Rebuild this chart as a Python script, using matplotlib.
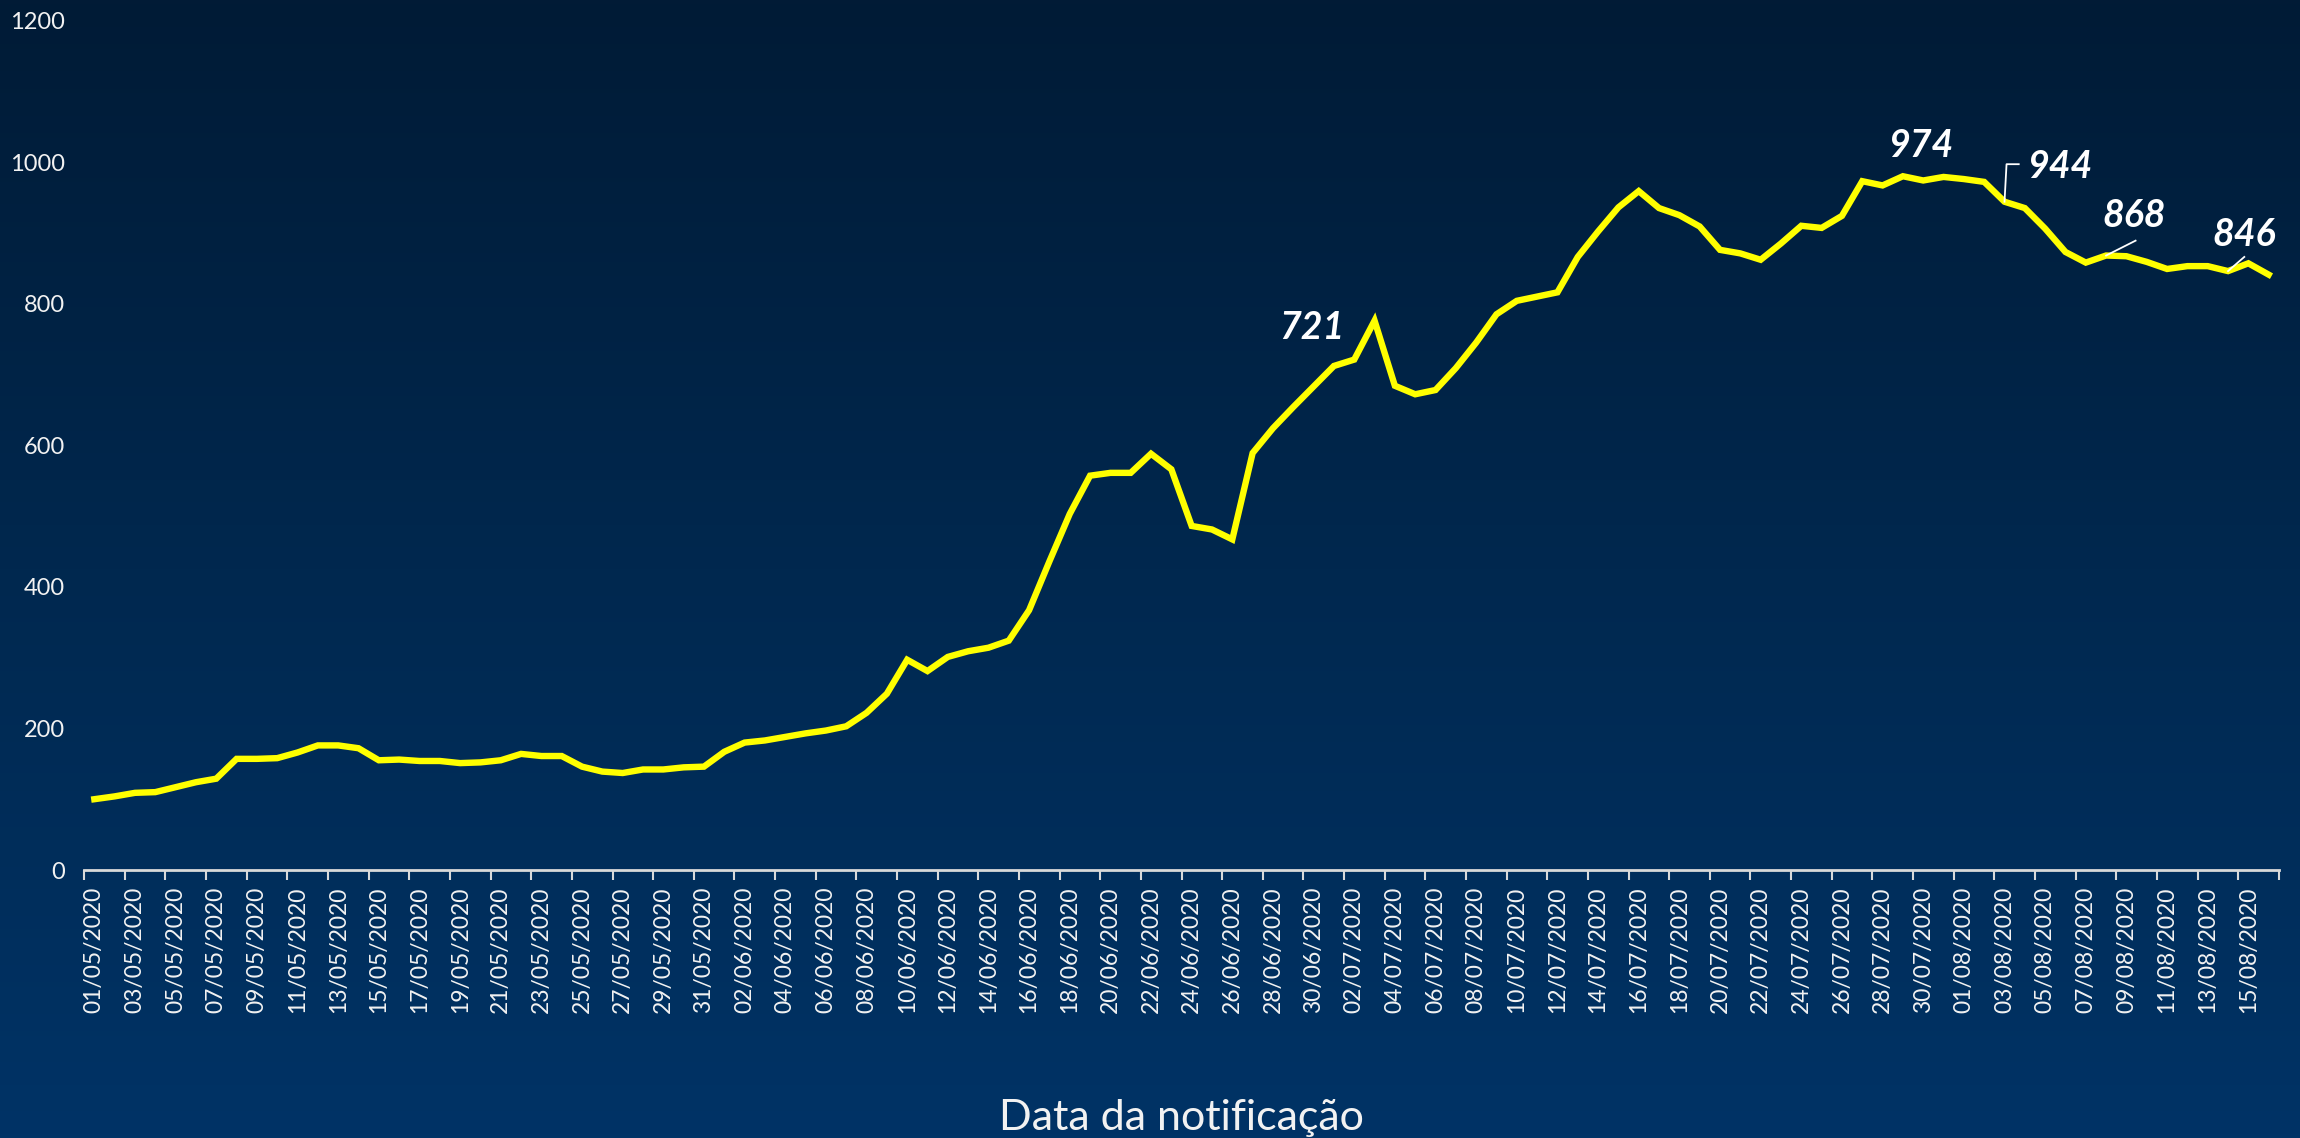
import numpy as np
import pandas as pd
import matplotlib
matplotlib.use("Agg")
import matplotlib.pyplot as plt
from matplotlib.colors import LinearSegmentedColormap

# Daily values, 01/05/2020 .. 16/08/2020
dates = pd.date_range("2020-05-01", "2020-08-16", freq="D")
date_labels = [d.strftime("%d/%m/%Y") for d in dates]
values = [
    100, 104, 109, 110, 117, 124, 129, 157, 157, 158,
    166, 176, 176, 172, 155, 156, 154, 154, 151, 152,
    155, 164, 161, 161, 146, 139, 137, 142, 142, 145,
    146, 167, 180, 183, 188, 193, 197, 203, 222, 249,
    297, 281, 301, 309, 314, 324, 367, 436, 503, 557,
    561, 561, 588, 566, 486, 481, 467, 589, 624, 654,
    683, 712, 721, 776, 684, 672, 678, 709, 745, 785,
    804, 810, 816, 866, 902, 936, 959, 935, 925, 909,
    876, 871, 862, 885, 910, 907, 924, 973, 967, 980,
    974, 979, 976, 972, 944, 935, 906, 873, 858, 868,
    867, 859, 849, 853, 853, 846, 857, 841,
]
# highlighted points (index into the series)
label_idx = [62, 90, 94, 99, 105]
y_ticks = [0, 200, 400, 600, 800, 1000, 1200]
x_title = "Data da notificação"

fig = plt.figure(figsize=(23, 11.38), dpi=100)

# gradient background
bg = fig.add_axes([0, 0, 1, 1], zorder=-10)
cmap = LinearSegmentedColormap.from_list("bg", ["#003366", "#00284f", "#011b36"])
grad = np.linspace(0, 1, 256).reshape(-1, 1)
bg.imshow(grad, aspect="auto", cmap=cmap, extent=[0, 1, 0, 1], origin="lower")
bg.axis("off")

ax = fig.add_axes([0.0366, 0.2355, 0.9542, 0.7465])
ax.set_facecolor("none")

x = np.arange(len(values))
ax.plot(x, values, color="#ffff00", lw=4.6, solid_joinstyle="miter", zorder=3)

ax.set_xlim(-0.5, len(values) - 0.5)
ax.set_ylim(0, 1200)

for s in ["top", "right", "left"]:
    ax.spines[s].set_visible(False)
ax.spines["bottom"].set_color("#d9d9d9")
ax.spines["bottom"].set_linewidth(2)

tick_font = dict(family="Lato", fontweight="normal", color="#f2f2f2")
ax.set_xticks(x[::2])
ax.set_xticklabels(date_labels[::2], rotation=90, fontsize=16.5, **tick_font)
ax.set_xticks(np.arange(-0.5, len(values), 2), minor=True)
ax.tick_params(axis="x", which="major", length=0, pad=12)
ax.tick_params(axis="x", which="minor", length=7, width=1.5, color="#d9d9d9")

ax.set_yticks(y_ticks)
ax.set_yticklabels([str(v) for v in y_ticks], fontsize=17, **tick_font)
ax.tick_params(axis="y", length=0, pad=14)

fig.text(0.5137, 0.018, x_title, ha="center", va="center", fontsize=31, **tick_font)

# data labels
lab_font = dict(family="Lato", fontweight="bold", style="italic", fontsize=27,
                color="white", ha="center", va="center", zorder=5)
offsets = [(-2.1, 46), (-0.1, 50), (2.7, 50), (1.4, 57), (0.8, 51)]
for i, (dx, dy) in zip(label_idx, offsets):
    ax.text(i + dx, values[i] + dy, str(values[i]), **lab_font)

# leader lines
i = label_idx[2]
ax.plot([i, i + 0.1, i + 0.7], [values[i], values[i] + 53, values[i] + 53],
        color="white", lw=1.3, zorder=4)
i = label_idx[3]
ax.plot([i, i + 1.45], [values[i], values[i] + 21], color="white", lw=1.3, zorder=4)
i = label_idx[4]
ax.plot([i, i + 0.8], [values[i], values[i] + 20], color="white", lw=1.3, zorder=4)

fig.savefig("out.png", dpi=100)
